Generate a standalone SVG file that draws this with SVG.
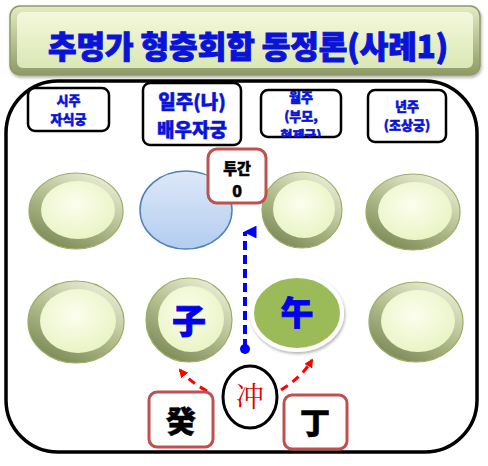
<svg xmlns="http://www.w3.org/2000/svg" width="488" height="466" viewBox="0 0 488 466">
<defs>
<linearGradient id="titleEdge" x1="0" y1="0" x2="0" y2="1">
<stop offset="0" stop-color="#e4ebc4"/><stop offset="1" stop-color="#8e9a66"/>
</linearGradient>
<linearGradient id="titleFace" x1="0" y1="0" x2="0" y2="1">
<stop offset="0" stop-color="#f4f8dc"/><stop offset="1" stop-color="#dbe7b4"/>
</linearGradient>
<linearGradient id="ring" x1="0.8" y1="0" x2="0.2" y2="1">
<stop offset="0" stop-color="#eef1dc"/><stop offset="0.5" stop-color="#b3bd8e"/><stop offset="1" stop-color="#778653"/>
</linearGradient>
<radialGradient id="face" cx="0.45" cy="0.4" r="0.65">
<stop offset="0" stop-color="#fcfeee"/><stop offset="1" stop-color="#e8f3c2"/>
</radialGradient>
<linearGradient id="blueFill" x1="0" y1="0" x2="0" y2="1">
<stop offset="0" stop-color="#dde8f8"/><stop offset="1" stop-color="#b3cdf0"/>
</linearGradient>
<filter id="sh" x="-10%" y="-10%" width="120%" height="130%">
<feDropShadow dx="1" dy="2" stdDeviation="1.5" flood-color="#000" flood-opacity="0.3"/>
</filter>
<marker id="blueHead" viewBox="0 0 10 10" refX="5" refY="1" markerWidth="3.2" markerHeight="3.2" orient="auto-start-reverse" markerUnits="strokeWidth">
<path d="M0,10 L5,0 L10,10 Z" fill="#0000ff"/>
</marker>
<marker id="redHead" viewBox="0 0 10 10" refX="8" refY="5" markerWidth="3" markerHeight="3" orient="auto" markerUnits="strokeWidth">
<path d="M0,0 L10,5 L0,10 Z" fill="#ff0000"/>
</marker>
<style>
.hdr{fill:#fff;stroke:#000;stroke-width:2.5}
.ht{font-family:"Noto Sans CJK KR","Noto Sans",sans-serif;font-weight:900;fill:#0a14d8;stroke:#0a14d8;stroke-width:0.5;text-anchor:middle}
.bk{font-family:"Noto Sans CJK KR","Noto Sans",sans-serif;font-weight:900;fill:#000;stroke:#000;stroke-width:0.5;text-anchor:middle}
.rbox{fill:#fff;stroke:#c0504d;stroke-width:3}
.ringE{fill:url(#ring);stroke:#9aae62;stroke-width:1.2}
.faceE{fill:url(#face)}
.cjk{font-family:"Noto Sans CJK SC","Noto Sans CJK KR",sans-serif;font-weight:900;fill:#0000ee;stroke:#0000ee;stroke-width:0.8;text-anchor:middle}
</style>
</defs>
<rect width="488" height="466" fill="#fff"/>

<g id="title">
<rect x="10" y="6" width="470" height="69" rx="10" fill="url(#titleEdge)" stroke="#8d9a67" stroke-width="1.5" filter="url(#sh)"/>
<rect x="17" y="12" width="456" height="56" rx="6" fill="url(#titleFace)"/>
<text x="248" y="58" class="ht" font-size="31" style="stroke-width:1">추명가 형충회합 동정론(사례1)</text>
</g>

<g id="frame">
<rect x="6" y="81" width="471" height="371" rx="52" fill="none" stroke="#000" stroke-width="3.5"/>
</g>

<g id="h-siju">
<rect class="hdr" x="28" y="88" width="81" height="43" rx="7"/>
<text class="ht" x="68.5" y="105" font-size="13">시주</text>
<text class="ht" x="68.5" y="124" font-size="13">자식궁</text>
</g>
<g id="h-ilju">
<rect class="hdr" x="143" y="83" width="98" height="62" rx="7" stroke-width="3"/>
<text class="ht" x="192" y="109" font-size="19">일주(나)</text>
<text class="ht" x="192" y="137" font-size="19">배우자궁</text>
</g>
<g id="h-wolju">
<clipPath id="wc"><rect x="261" y="90" width="80" height="47" rx="7"/></clipPath>
<rect class="hdr" x="261" y="90" width="80" height="47" rx="7"/>
<g clip-path="url(#wc)">
<text class="ht" x="301" y="102" font-size="13">월주</text>
<text class="ht" x="301" y="121" font-size="13">(부모,</text>
<text class="ht" x="301" y="140" font-size="13">형제궁)</text>
</g>
</g>
<g id="h-nyeonju">
<rect class="hdr" x="368" y="90" width="78" height="52" rx="7"/>
<text class="ht" x="407" y="111" font-size="13">년주</text>
<text class="ht" x="407" y="130" font-size="13">(조상궁)</text>
</g>

<g id="e-r1c1">
<ellipse class="ringE" cx="76" cy="211" rx="47" ry="38"/>
<ellipse class="faceE" cx="78" cy="210" rx="37" ry="29"/>
</g>
<g id="e-r1c2">
<ellipse cx="186" cy="210" rx="46" ry="39" fill="url(#blueFill)" stroke="#4f81bd" stroke-width="1.5"/>
</g>
<g id="e-r1c3">
<ellipse class="ringE" cx="302" cy="210" rx="40" ry="38"/>
<ellipse class="faceE" cx="304" cy="209" rx="31" ry="29"/>
</g>
<g id="e-r1c4">
<ellipse class="ringE" cx="413" cy="212" rx="47" ry="38"/>
<ellipse class="faceE" cx="415" cy="211" rx="37" ry="29"/>
</g>

<g id="tugan">
<rect class="rbox" x="208" y="149" width="58" height="54" rx="9"/>
<text class="bk" x="237" y="174" font-size="15">투간</text>
<text class="bk" x="237" y="197" font-size="16">0</text>
</g>

<g id="e-r2c1">
<ellipse class="ringE" cx="76" cy="322" rx="48" ry="41"/>
<ellipse class="faceE" cx="78" cy="321" rx="38" ry="32"/>
</g>
<g id="e-ja">
<ellipse class="ringE" cx="189" cy="320" rx="43" ry="42"/>
<ellipse class="faceE" cx="191" cy="319" rx="33" ry="33"/>
<text class="cjk" x="189" y="334" font-size="34">子</text>
</g>
<g id="e-o">
<ellipse cx="297" cy="313" rx="45" ry="37" fill="#9bbb59" stroke="#fff" stroke-width="4" filter="url(#sh)"/>
<text class="cjk" x="297" y="325" font-size="33">午</text>
</g>
<g id="e-r2c4">
<ellipse class="ringE" cx="416" cy="322" rx="47" ry="40"/>
<ellipse class="faceE" cx="418" cy="321" rx="37" ry="31"/>
</g>

<g id="connectors">
<line x1="245" y1="348" x2="245" y2="232" stroke="#0000ff" stroke-width="4" stroke-dasharray="9,5" marker-end="url(#blueHead)"/>
<circle cx="245" cy="349" r="5" fill="#0000ff"/>
<path d="M207,391 Q190,382 180,370" fill="none" stroke="#ff0000" stroke-width="3" stroke-dasharray="8,6" marker-end="url(#redHead)"/>
<path d="M281,390 Q302,377 312,360" fill="none" stroke="#ff0000" stroke-width="3" stroke-dasharray="8,6" marker-end="url(#redHead)"/>
</g>

<g id="chung">
<ellipse cx="250" cy="397" rx="27" ry="31" fill="#fff" stroke="#000" stroke-width="3"/>
<text x="250" y="407" font-family="Noto Serif CJK SC,Noto Sans CJK SC,serif" font-size="28" fill="#e00000" text-anchor="middle">冲</text>
</g>
<g id="gye">
<rect class="rbox" x="149" y="392" width="64" height="55" rx="8"/>
<text class="bk" x="181" y="432" font-size="30" font-family="Noto Sans CJK SC,sans-serif">癸</text>
</g>
<g id="jeong">
<rect class="rbox" x="284" y="395" width="63" height="54" rx="8"/>
<text class="bk" x="315" y="434" font-size="30" font-family="Noto Sans CJK SC,sans-serif">丁</text>
</g>
</svg>
